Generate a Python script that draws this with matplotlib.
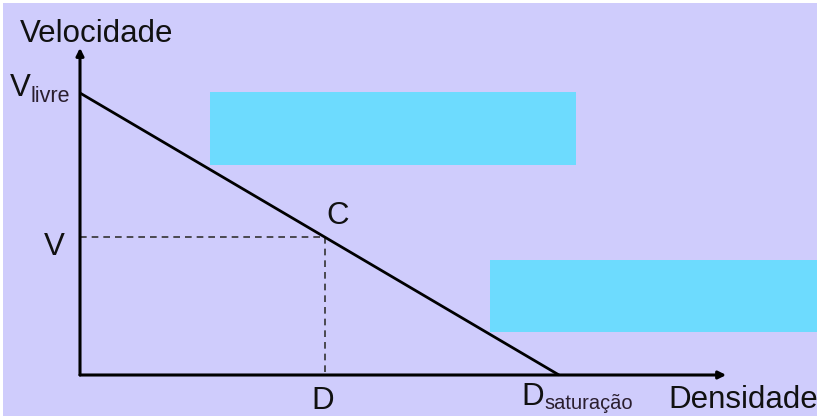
import matplotlib
matplotlib.use("Agg")
import matplotlib.pyplot as plt
from matplotlib.patches import Rectangle

plt.rcParams['font.family'] = ['Liberation Sans', 'DejaVu Sans']

# Data (normalized units: density and speed)
v_livre = 1.0          # free-flow speed
d_saturacao = 1.0      # jam density
point_c = (0.511, 0.489)   # (D, V) operating point C
axis_x_end = 1.349
axis_y_end = 1.16
# cyan boxes (x0, y0, x1, y1) in data units
boxes = [(0.271, 0.745, 1.035, 1.004), (0.856, 0.152, 1.54, 0.408)]

W, H = 817, 416
fig = plt.figure(figsize=(W / 100, H / 100), dpi=100)
fig.patch.set_facecolor('#CFCCFC')

# white margins at top / left
fig.patches.append(Rectangle((0, 1 - 3 / H), 1, 3 / H, transform=fig.transFigure,
                             facecolor='white', edgecolor='none', zorder=0))
fig.patches.append(Rectangle((0, 0), 3 / W, 1, transform=fig.transFigure,
                             facecolor='white', edgecolor='none', zorder=0))

ox, oy = 80, 375
px_x, px_y = 479, 282
ax = fig.add_axes([ox / W, 1 - oy / H, px_x / W, px_y / H])
ax.set_xlim(0, 1)
ax.set_ylim(0, 1)
ax.axis('off')
ax.patch.set_alpha(0)

for (x0, y0, x1, y1) in boxes:
    ax.add_patch(Rectangle((x0, y0), x1 - x0, y1 - y0, facecolor='#6DDBFE',
                           edgecolor='none', clip_on=False, zorder=1))

# axes with arrows
arrow = dict(arrowstyle='-|>', color='black', lw=2.2, mutation_scale=11,
             shrinkA=0, shrinkB=0)
ax.annotate('', xy=(0, axis_y_end), xytext=(0, 0), arrowprops=arrow,
            annotation_clip=False, zorder=3)
ax.annotate('', xy=(axis_x_end, 0), xytext=(0, 0), arrowprops=arrow,
            annotation_clip=False, zorder=3)

# fundamental diagram line
ax.plot([0, d_saturacao], [v_livre, 0], color='black', lw=2.0, clip_on=False,
        zorder=3, solid_capstyle='butt')

# dashed guides
dc, vc = point_c
ax.plot([0, dc], [vc, vc], color='#333333', lw=1.2, ls=(0, (4, 3)), clip_on=False, zorder=2)
ax.plot([dc, dc], [vc, 0], color='#333333', lw=1.2, ls=(0, (4, 3)), clip_on=False, zorder=2)


def t(x, y, s, size, color='#111111'):
    fig.text(x / W, 1 - y / H, s, fontsize=size, color=color, va='baseline', ha='left')


big = 22.5
t(20, 42, 'Velocidade', big)
t(10, 96, 'V', big)
t(30, 102, 'livre', 15.5, '#2a1e2e')
t(44, 255, 'V', big)
t(326, 224, 'C', big)
t(311, 409, 'D', big)
t(521, 405, 'D', big)
t(544, 409, 'saturação', 14.5, '#2a1e2e')
t(668, 408, 'Densidade', big)

fig.savefig('out.png', dpi=100, facecolor=fig.get_facecolor())
